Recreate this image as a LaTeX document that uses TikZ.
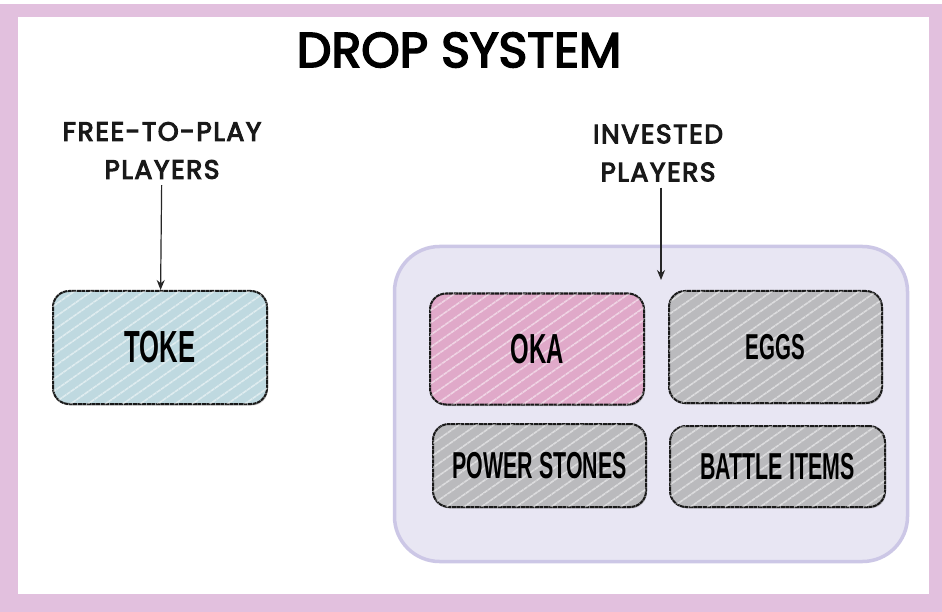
\documentclass[tikz,border=0pt]{standalone}
\usepackage{fontspec}
\usetikzlibrary{arrows.meta,patterns.meta,shadows,positioning}
\newfontfamily\titlefont{Poppins}[FakeBold=3.5]
\newfontfamily\sidefont{Poppins}[LetterSpace=6,FakeBold=4]
\newfontfamily\boxfont{Liberation Sans}[FakeStretch=0.57]
\definecolor{framepink}{HTML}{E2C0DE}
\definecolor{contfill}{HTML}{E8E6F3}
\definecolor{contline}{HTML}{CCC7E6}
\definecolor{tokefill}{HTML}{BFD9E0}
\definecolor{okafill}{HTML}{E0A9C9}
\definecolor{grayfill}{HTML}{BABABD}
\tikzset{
  itembox/.style={rounded corners=16pt, draw=black!90, line width=2pt,
    dash pattern=on 4pt off 0.6pt,
    drop shadow={shadow xshift=1pt, shadow yshift=-1.5pt, opacity=0.4},
    postaction={pattern={Lines[angle=35,distance=10pt,line width=1.6pt]}, pattern color=white, opacity=0.5},
    text=black, inner sep=0pt},
  sidelabel/.style={font=\sidefont\fontsize{26.5}{38}\selectfont, align=center, text=black!90, inner sep=6pt},
  arr/.style={-{Stealth[length=10pt,width=8pt]}, line width=1.2pt, black!85}
}
\begin{document}
\begin{tikzpicture}[x=1pt,y=-1pt]
  % frame
  \fill[white] (0,0) rectangle (942,612);
  \fill[framepink] (0,4) rectangle (942,612);
  \fill[white] (18,17) rectangle (929,594);
  \useasboundingbox (0,0) rectangle (942,612);
  % title
  \node[font=\titlefont\fontsize{49}{49}\selectfont, text=black] (title) at (459,50) {DROP SYSTEM};
  % side labels
  \node[sidelabel] (ftp) at (162,150.5) {FREE-TO-PLAY\\PLAYERS};
  \node[sidelabel] (inv) at (658,153) {INVESTED\\PLAYERS};
  % container
  \node[rounded corners=45pt, fill=contfill, draw=contline, line width=3.5pt,
        minimum width=513pt, minimum height=315pt] (cont) at (651,404) {};
  % boxes
  \node[itembox, fill=tokefill, minimum width=214pt, minimum height=113pt,
        font=\boxfont\bfseries\fontsize{45}{45}\selectfont] (toke) at (160,347.5) {TOKE};
  \node[itembox, fill=okafill, minimum width=214pt, minimum height=111pt,
        font=\boxfont\bfseries\fontsize{42}{42}\selectfont] (oka) at (537,349) {OKA};
  \node[itembox, fill=grayfill, minimum width=213pt, minimum height=112pt,
        font=\boxfont\bfseries\fontsize{36}{36}\selectfont] (eggs) at (775.5,347) {EGGS};
  \node[itembox, fill=grayfill, minimum width=213pt, minimum height=83pt,
        font=\boxfont\bfseries\fontsize{37.5}{37.5}\selectfont] (power) at (539.5,465.5) {POWER STONES};
  \node[itembox, fill=grayfill, minimum width=215pt, minimum height=81pt,
        font=\boxfont\bfseries\fontsize{37.5}{37.5}\selectfont] (battle) at (777.5,466.5) {BATTLE ITEMS};
  % arrows
  \coordinate (invtip) at (661,280);
  \draw[arr] (ftp) -- (toke);
  \draw[arr] (inv.south -| invtip) -- (invtip);
\end{tikzpicture}
\end{document}
